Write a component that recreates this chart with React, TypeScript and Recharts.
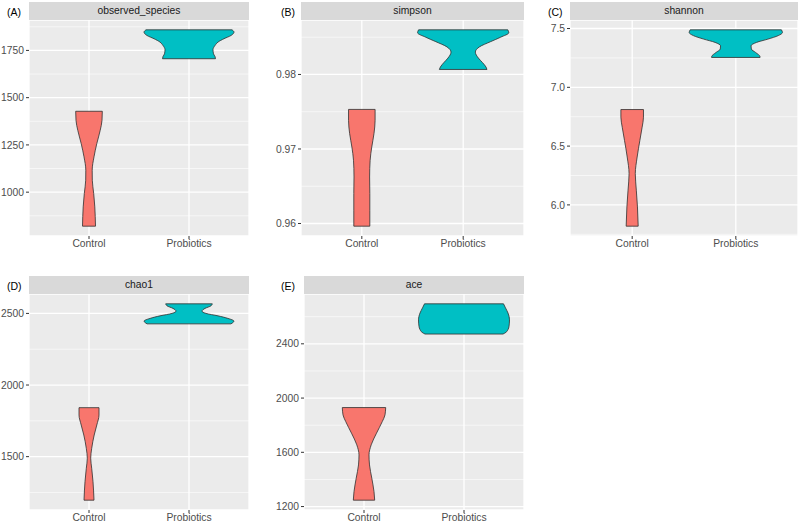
import {
  ComposedChart,
  Area,
  Line,
  XAxis,
  YAxis,
  CartesianGrid,
  ReferenceLine,
} from 'recharts';

const groups = ['Control', 'Probiotics'];
const metrics = ['observed_species', 'simpson', 'shannon', 'chao1', 'ace'];
const tags = ['(A)', '(B)', '(C)', '(D)', '(E)'];

// half widths of each violin (x units, 0.45 = widest) at the given values
const observedCtrlY = [820, 922, 993, 1063, 1116, 1187, 1257, 1327, 1380, 1428];
const observedCtrlW = [0.065, 0.058, 0.047, 0.033, 0.032, 0.05, 0.078, 0.112, 0.13, 0.133];
const observedProbY = [1706, 1718, 1732, 1754, 1776, 1794, 1812, 1829, 1847, 1859];
const observedProbW = [0.265, 0.26, 0.245, 0.24, 0.26, 0.29, 0.35, 0.42, 0.45, 0.43];
const observedTicks = [1000, 1250, 1500, 1750];
const observedMinor = [875, 1125, 1375, 1625, 1875];

const simpsonCtrlY = [0.95964, 0.96178, 0.96402, 0.96624, 0.96848, 0.97026, 0.97206, 0.97384, 0.97531];
const simpsonCtrlW = [0.079, 0.079, 0.079, 0.077, 0.082, 0.098, 0.12, 0.131, 0.131];
const simpsonProbY = [0.98067, 0.981, 0.9816, 0.9822, 0.983, 0.9837, 0.9844, 0.985, 0.9856, 0.98599];
const simpsonProbW = [0.235, 0.225, 0.19, 0.15, 0.12, 0.16, 0.27, 0.37, 0.45, 0.44];
const simpsonTicks = [0.96, 0.97, 0.98];
const simpsonMinor = [0.965, 0.975, 0.985];

const shannonCtrlY = [5.819, 5.983, 6.125, 6.266, 6.407, 6.548, 6.661, 6.746, 6.811];
const shannonCtrlW = [0.058, 0.051, 0.04, 0.03, 0.048, 0.074, 0.096, 0.109, 0.109];
const shannonProbY = [7.254, 7.26, 7.297, 7.325, 7.353, 7.382, 7.41, 7.44, 7.466, 7.489];
const shannonProbW = [0.234, 0.234, 0.19, 0.15, 0.147, 0.2, 0.31, 0.41, 0.45, 0.44];
const shannonTicks = [6.0, 6.5, 7.0, 7.5];
const shannonMinor = [5.75, 6.25, 6.75, 7.25];

const chaoCtrlY = [1196, 1325, 1419, 1489, 1558, 1651, 1721, 1791, 1842];
const chaoCtrlW = [0.05, 0.04, 0.027, 0.017, 0.027, 0.052, 0.078, 0.1, 0.1];
const chaoProbY = [2427, 2437, 2446, 2465, 2483, 2500, 2516, 2535, 2553, 2567];
const chaoProbW = [0.42, 0.44, 0.45, 0.39, 0.29, 0.17, 0.13, 0.16, 0.22, 0.233];
const chaoTicks = [1500, 2000, 2500];
const chaoMinor = [1250, 1750, 2250];

const aceCtrlY = [1247, 1310, 1409, 1507, 1581, 1655, 1741, 1827, 1876, 1930];
const aceCtrlW = [0.107, 0.1, 0.078, 0.055, 0.05, 0.072, 0.125, 0.183, 0.21, 0.217];
const aceProbY = [2472, 2485, 2505, 2528, 2577, 2627, 2665, 2695];
const aceProbW = [0.39, 0.42, 0.44, 0.45, 0.455, 0.44, 0.415, 0.395];
const aceTicks = [1200, 1600, 2000, 2400];
const aceMinor = [1400, 1800, 2200, 2600];

const seriesData = [
  { ctrlY: observedCtrlY, ctrlW: observedCtrlW, probY: observedProbY, probW: observedProbW, ticks: observedTicks, minor: observedMinor, digits: 0 },
  { ctrlY: simpsonCtrlY, ctrlW: simpsonCtrlW, probY: simpsonProbY, probW: simpsonProbW, ticks: simpsonTicks, minor: simpsonMinor, digits: 2 },
  { ctrlY: shannonCtrlY, ctrlW: shannonCtrlW, probY: shannonProbY, probW: shannonProbW, ticks: shannonTicks, minor: shannonMinor, digits: 1 },
  { ctrlY: chaoCtrlY, ctrlW: chaoCtrlW, probY: chaoProbY, probW: chaoProbW, ticks: chaoTicks, minor: chaoMinor, digits: 0 },
  { ctrlY: aceCtrlY, ctrlW: aceCtrlW, probY: aceProbY, probW: aceProbW, ticks: aceTicks, minor: aceMinor, digits: 0 },
];

// where each panel sits on the page
const layout = [
  { chartLeft: 0, plotLeft: 29, plotRight: 249, top: 20, bottom: 236, tagX: 7, tagY: 6 },
  { chartLeft: 266, plotLeft: 301, plotRight: 524, top: 20, bottom: 236, tagX: 281, tagY: 6 },
  { chartLeft: 536, plotLeft: 570, plotRight: 798, top: 20, bottom: 236, tagX: 548, tagY: 6 },
  { chartLeft: 0, plotLeft: 29, plotRight: 249, top: 294, bottom: 510, tagX: 7, tagY: 280 },
  { chartLeft: 266, plotLeft: 304, plotRight: 524, top: 294, bottom: 510, tagX: 281, tagY: 280 },
];

const FONT = '"Liberation Sans", Arial, Helvetica, sans-serif';
const FILL_CTRL = '#F8766D';
const FILL_PROB = '#00BFC4';
const OUTLINE = '#2E2E2E';
const X_AXIS_H = 24;
const STRIP_H = 18;

function buildRows(s: any) {
  const rows: any[] = [];
  s.ctrlY.forEach((y: number, i: number) => {
    const w = s.ctrlW[i];
    rows.push({ y, ctrl: [1 - w, 1 + w], ctrlL: 1 - w, ctrlR: 1 + w });
  });
  s.probY.forEach((y: number, i: number) => {
    const w = s.probW[i];
    rows.push({ y, prob: [2 - w, 2 + w], probL: 2 - w, probR: 2 + w });
  });
  return rows;
}

function Panel({ index }: { index: number }) {
  const s = seriesData[index];
  const box = layout[index];
  const rows = buildRows(s);
  const all = [...s.ctrlY, ...s.probY];
  const lo = Math.min(...all);
  const hi = Math.max(...all);
  const pad = (hi - lo) * 0.05;
  const width = box.plotRight - box.chartLeft;
  const height = box.bottom - box.top + X_AXIS_H;

  const cap = (c: number, y: number, w: number, key: string) => (
    <ReferenceLine
      key={key}
      segment={[{ x: c - w, y }, { x: c + w, y }]}
      stroke={OUTLINE}
      strokeWidth={0.8}
      ifOverflow="visible"
    />
  );
  const nC = s.ctrlY.length - 1;
  const nP = s.probY.length - 1;

  return (
    <>
      <div
        style={{
          position: 'absolute',
          left: box.tagX,
          top: box.tagY,
          fontSize: 10.5,
          color: '#000',
          lineHeight: '13px',
        }}
      >
        {tags[index]}
      </div>
      <div
        style={{
          position: 'absolute',
          left: box.plotLeft,
          top: box.top - STRIP_H - 0.5,
          width: box.plotRight - box.plotLeft,
          height: STRIP_H,
          background: '#D9D9D9',
          color: '#1A1A1A',
          fontSize: 10.3,
          lineHeight: `${STRIP_H}px`,
          textAlign: 'center',
        }}
      >
        {metrics[index]}
      </div>
      <div style={{ position: 'absolute', left: box.chartLeft, top: box.top }}>
        <ComposedChart
          width={width}
          height={height}
          data={rows}
          layout="vertical"
          margin={{ top: 0, right: 0, bottom: 0, left: 0 }}
        >
          <CartesianGrid fill="#EBEBEB" stroke="#FFFFFF" strokeWidth={1.3} />
          <CartesianGrid
            vertical={false}
            horizontalValues={s.minor}
            stroke="#FFFFFF"
            strokeWidth={0.6}
            fill="none"
          />
          <XAxis
            type="number"
            domain={[0.4, 2.6]}
            ticks={[1, 2]}
            allowDataOverflow
            height={X_AXIS_H}
            tickFormatter={(v: number) => groups[v - 1]}
            axisLine={false}
            tickLine={{ stroke: '#333333' }}
            tickSize={3}
            tickMargin={1}
            tick={{ fill: '#4D4D4D', fontSize: 10.3 }}
            interval={0}
          />
          <YAxis
            type="number"
            dataKey="y"
            reversed
            domain={[lo - pad, hi + pad]}
            ticks={s.ticks}
            allowDataOverflow
            width={box.plotLeft - box.chartLeft}
            tickFormatter={(v: number) => v.toFixed(s.digits)}
            axisLine={false}
            tickLine={{ stroke: '#333333' }}
            tickSize={3}
            tickMargin={2}
            tick={{ fill: '#4D4D4D', fontSize: 10.3 }}
            interval={0}
          />
          <Area
            dataKey="ctrl"
            type="monotone"
            fill={FILL_CTRL}
            fillOpacity={1}
            stroke="none"
            isAnimationActive={false}
            activeDot={false}
          />
          <Area
            dataKey="prob"
            type="monotone"
            fill={FILL_PROB}
            fillOpacity={1}
            stroke="none"
            isAnimationActive={false}
            activeDot={false}
          />
          {['ctrlL', 'ctrlR', 'probL', 'probR'].map((k) => (
            <Line
              key={k}
              dataKey={k}
              type="monotone"
              stroke={OUTLINE}
              strokeWidth={0.8}
              dot={false}
              activeDot={false}
              isAnimationActive={false}
            />
          ))}
          {cap(1, s.ctrlY[0], s.ctrlW[0], 'c0')}
          {cap(1, s.ctrlY[nC], s.ctrlW[nC], 'c1')}
          {cap(2, s.probY[0], s.probW[0], 'p0')}
          {cap(2, s.probY[nP], s.probW[nP], 'p1')}
        </ComposedChart>
      </div>
    </>
  );
}

export default function App() {
  return (
    <div
      style={{
        position: 'absolute',
        left: 0,
        top: 0,
        width: 800,
        height: 524,
        background: '#FFFFFF',
        fontFamily: FONT,
        overflow: 'hidden',
      }}
    >
      {metrics.map((m, i) => (
        <Panel key={m} index={i} />
      ))}
    </div>
  );
}
